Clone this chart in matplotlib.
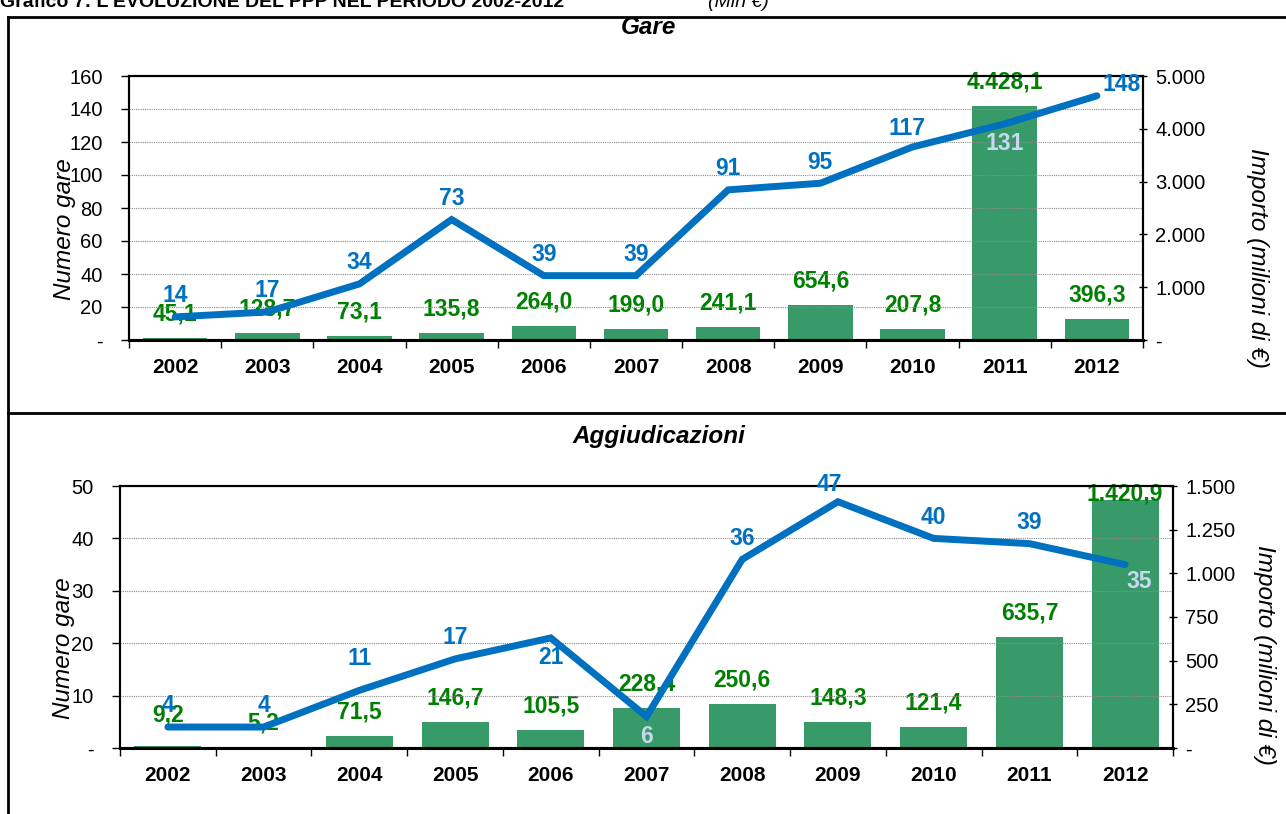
import matplotlib.pyplot as plt
from matplotlib.ticker import FuncFormatter, FixedLocator

plt.rcParams['font.family'] = ['Liberation Sans', 'DejaVu Sans']

anni = ['2002', '2003', '2004', '2005', '2006', '2007', '2008', '2009', '2010', '2011', '2012']

gare_num = [14, 17, 34, 73, 39, 39, 91, 95, 117, 131, 148]
gare_imp = [45.1, 128.7, 73.1, 135.8, 264.0, 199.0, 241.1, 654.6, 207.8, 4428.1, 396.3]

agg_num = [4, 4, 11, 17, 21, 6, 36, 47, 40, 39, 35]
agg_imp = [9.2, 5.2, 71.5, 146.7, 105.5, 228.4, 250.6, 148.3, 121.4, 635.7, 1420.9]

BLU = '#0070C0'
VERDE = '#389A69'
VERDE_TXT = '#008000'
CHIARO = '#C6D9EE'


def fmt_it(v, dec):
    s = f'{v:,.{dec}f}'
    return s.replace(',', 'X').replace('.', ',').replace('X', '.')


def tick_it(v, pos):
    if abs(v) < 1e-9:
        return '-'
    return fmt_it(v, 0)


def pannello(fig, rect, titolo, num, imp, ymax_l, step_l, ymax_r, step_r,
             pos_num, pos_bar, title_y, lab_l, lab_r):
    ax = fig.add_axes(rect)
    ax2 = ax.twinx()
    x = list(range(len(anni)))
    ax.set_zorder(ax2.get_zorder() + 1)
    ax.patch.set_visible(False)
    ax2.bar(x, imp, width=0.7, color=VERDE, zorder=2)
    ax.plot(x, num, color=BLU, lw=5, solid_capstyle='round', solid_joinstyle='miter', zorder=3)

    ax.set_xlim(-0.5, len(anni) - 0.5)
    ax.set_ylim(0, ymax_l)
    ax2.set_ylim(0, ymax_r)
    ax.yaxis.set_major_locator(FixedLocator(range(0, ymax_l + 1, step_l)))
    ax2.yaxis.set_major_locator(FixedLocator(range(0, ymax_r + 1, step_r)))
    ax.yaxis.set_major_formatter(FuncFormatter(tick_it))
    ax2.yaxis.set_major_formatter(FuncFormatter(tick_it))
    ax.grid(axis='y', color='#8c8c8c', lw=0.8, ls=(0, (1, 1)))

    ax.set_xticks(x)
    ax.set_xticklabels(anni, fontsize=15, fontweight='bold')
    ax.set_xticks([i + 0.5 for i in range(-1, len(anni))], minor=True)
    ax.tick_params(axis='x', which='major', length=0, pad=13)
    ax.tick_params(axis='x', which='minor', length=6, width=1, direction='out')
    ax.tick_params(axis='y', labelsize=14.5, length=6, width=1, direction='out', pad=13)
    ax2.tick_params(axis='y', labelsize=14.5, length=6, width=1, direction='inout', pad=6)

    for a in (ax, ax2):
        for s in a.spines.values():
            s.set_linewidth(1.5)
    ax.spines['bottom'].set_linewidth(2.2)

    ax.set_ylabel('Numero gare', fontsize=17.5, style='italic', va='center')
    ax2.set_ylabel('Importo (milioni di €)', fontsize=17.5, style='italic', rotation=270, va='center')
    ax.yaxis.set_label_coords(*lab_l)
    ax2.yaxis.set_label_coords(*lab_r)

    # etichette barre
    for i, v in enumerate(imp):
        dy = pos_bar.get(i, 9)
        ax2.annotate(fmt_it(v, 1), (i, v), xytext=(0, dy), textcoords='offset points',
                     ha='center', va='bottom', fontsize=16.5, fontweight='bold', color=VERDE_TXT, zorder=5)
    # etichette linea
    for i, v in enumerate(num):
        dx, dy, col = pos_num.get(i, (0, 7, BLU))
        va = 'bottom' if dy >= 0 else 'top'
        ax.annotate(str(v), (i, v), xytext=(dx, dy), textcoords='offset points',
                    ha='center', va=va, fontsize=16.5, fontweight='bold', color=col, zorder=6)

    fig.text(rect[0] + rect[2] / 2 + 0.01, title_y, titolo, ha='center', va='center',
             fontsize=17.5, fontweight='bold', style='italic')
    return ax


fig = plt.figure(figsize=(12.86, 8.14), dpi=100)

pos_gare = {9: (0, -6, CHIARO), 8: (-4, 5, BLU), 10: (18, 0, BLU)}
pannello(fig, [129 / 1286, 1 - 340 / 814, 1014 / 1286, 264 / 814], 'Gare',
         gare_num, gare_imp, 160, 20, 5000, 1000, pos_gare, {}, 1 - 27 / 814,
         (-0.064, 0.42), (1.113, 0.31))

pos_agg = {4: (0, -6, BLU), 5: (0, -6, CHIARO), 10: (10, -4, CHIARO), 2: (0, 15, BLU), 7: (-6, 4, BLU)}
pannello(fig, [120 / 1286, 1 - 748 / 814, 1053 / 1286, 262 / 814], 'Aggiudicazioni',
         agg_num, agg_imp, 50, 10, 1500, 250, pos_agg, {10: -4, 0: 14}, 1 - 437 / 814,
         (-0.054, 0.38), (1.087, 0.355))

# cornice esterna
fig.add_artist(plt.Line2D([8 / 1286, 8 / 1286], [0, 1 - 17 / 814], color='black', lw=2, transform=fig.transFigure))
fig.add_artist(plt.Line2D([8 / 1286, 1], [1 - 17 / 814, 1 - 17 / 814], color='black', lw=2, transform=fig.transFigure))
fig.add_artist(plt.Line2D([8 / 1286, 1], [1 - 413 / 814, 1 - 413 / 814], color='black', lw=2, transform=fig.transFigure))

# titolo tagliato in alto
fig.text(0.0, 1 - 7 / 814, "Grafico 7: L'EVOLUZIONE DEL PPP NEL PERIODO 2002-2012", ha='left', va='baseline',
         fontsize=14, fontweight='bold')
fig.text(708 / 1286, 1 - 7 / 814, '(Mln €)', ha='left', va='baseline', fontsize=14, style='italic')

fig.savefig('out.png', dpi=100)
